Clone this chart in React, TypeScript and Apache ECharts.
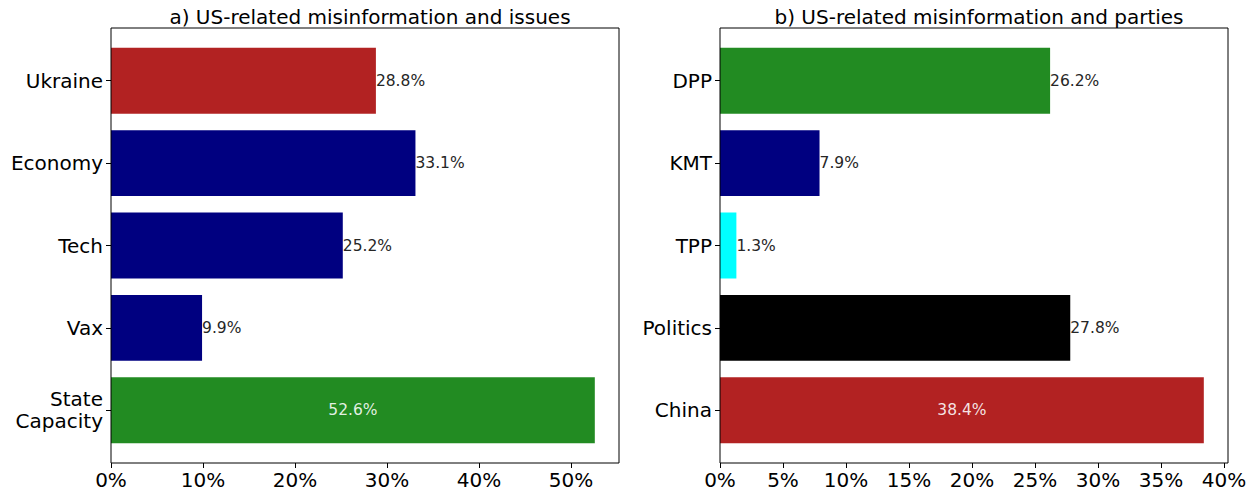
import React, { useEffect, useRef } from "react";
import * as echarts from "echarts";

// Panel a
const issueCategories = ["Ukraine", "Economy", "Tech", "Vax", "State\nCapacity"];
const issueValues = [28.8, 33.1, 25.2, 9.9, 52.6];
const issueColors = ["#b22222", "#000080", "#000080", "#000080", "#228b22"];
const issueTicks = [0, 10, 20, 30, 40, 50];

// Panel b
const partyCategories = ["DPP", "KMT", "TPP", "Politics", "China"];
const partyValues = [26.2, 7.9, 1.3, 27.8, 38.4];
const partyColors = ["#228b22", "#000080", "#00ffff", "#000000", "#b22222"];
const partyTicks = [0, 5, 10, 15, 20, 25, 30, 35, 40];

const titles = [
  "a) US-related misinformation and issues",
  "b) US-related misinformation and parties",
];

const FONT = "DejaVu Sans";

// layout
const FRAME_TOP = 28;
const FRAME_H = 435;
const FRAME_W = 508;
const LEFTS = [111, 720];
const UNIT = FRAME_H / 5.28;
const DATA_TOP = FRAME_TOP + 0.14 * UNIT;
const DATA_H = 5 * UNIT;
const X_OFFSET = FRAME_TOP + FRAME_H - (DATA_TOP + DATA_H);
const LABEL_SIZE = 15.5;

function makeSeriesData(values: number[], colors: string[]) {
  const mx = Math.max(...values);
  return values.map((v, i) => {
    const inside = v === mx;
    return {
      value: v,
      itemStyle: { color: colors[i] },
      label: inside
        ? {
            show: true,
            position: "inside",
            color: "rgba(255,255,255,0.88)",
            fontSize: LABEL_SIZE,
            fontFamily: FONT,
            formatter: (p: any) => p.value.toFixed(1) + "%",
          }
        : {
            show: true,
            position: "right",
            distance: 0,
            color: "#262626",
            fontSize: LABEL_SIZE,
            fontFamily: FONT,
            formatter: (p: any) => p.value.toFixed(1) + "%",
          },
    };
  });
}

export default function App() {
  const ref = useRef<HTMLDivElement>(null);
  useEffect(() => {
    if (!ref.current) return;
    const chart = echarts.init(ref.current, null, { renderer: "svg" });
    const panels = [
      { cats: issueCategories, vals: issueValues, cols: issueColors, ticks: issueTicks },
      { cats: partyCategories, vals: partyValues, cols: partyColors, ticks: partyTicks },
    ];
    const option: any = {
      animation: false,
      backgroundColor: "#ffffff",
      title: titles.map((t, i) => ({
        text: t,
        left: LEFTS[i] + FRAME_W / 2,
        top: 2,
        textAlign: "center",
        textStyle: { fontFamily: FONT, fontSize: 20, fontWeight: "normal", color: "#000" },
      })),
      grid: panels.map((_, i) => ({
        left: LEFTS[i],
        top: DATA_TOP,
        width: FRAME_W,
        height: DATA_H,
      })),
      xAxis: panels.map((p, i) => ({
        type: "value",
        gridIndex: i,
        min: 0,
        max: Math.max(...p.vals) * 1.05,
        offset: X_OFFSET,
        splitLine: { show: false },
        axisLine: { show: false },
        axisTick: {
          show: true,
          length: 5,
          lineStyle: { color: "#000" },
          customValues: p.ticks,
        },
        axisLabel: {
          customValues: p.ticks,
          formatter: "{value}%",
          fontFamily: FONT,
          fontSize: 20,
          color: "#000",
          margin: 7,
        },
      })),
      yAxis: panels.map((p, i) => ({
        type: "category",
        gridIndex: i,
        data: p.cats,
        inverse: true,
        axisLine: { show: false },
        axisTick: { show: true, alignWithLabel: true, length: 5, lineStyle: { color: "#000" } },
        axisLabel: {
          fontFamily: FONT,
          fontSize: 20,
          color: "#000",
          margin: 8,
          lineHeight: 22,
          align: "right",
        },
      })),
      series: panels.map((p, i) => ({
        type: "bar",
        xAxisIndex: i,
        yAxisIndex: i,
        barWidth: "80%",
        data: makeSeriesData(p.vals, p.cols),
      })),
      graphic: LEFTS.map((l) => ({
        type: "rect",
        z: 100,
        shape: { x: l, y: FRAME_TOP, width: FRAME_W, height: FRAME_H },
        style: { fill: "none", stroke: "#000", lineWidth: 1 },
        silent: true,
      })),
    };
    chart.setOption(option);
    return () => chart.dispose();
  }, []);
  return (
    <div
      ref={ref}
      style={{ position: "fixed", left: 0, top: 0, width: 1257, height: 492 }}
    />
  );
}
